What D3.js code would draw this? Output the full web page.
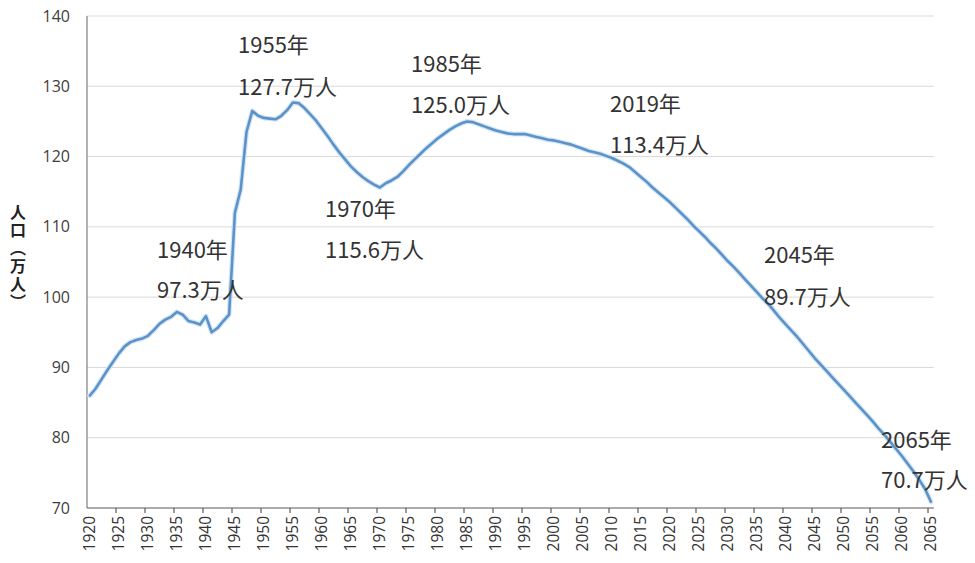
<!DOCTYPE html>
<html><head><meta charset="utf-8">
<script src="https://cdn.jsdelivr.net/npm/d3@7"></script>
<style>
html,body{margin:0;padding:0;background:#fff;}
svg{display:block;}
</style></head>
<body>
<svg id="chart" width="975" height="563"></svg>
<script>
// ---- data ----
const years = d3.range(1920, 2066);
const population = [
  86.0, 87.0, 88.3, 89.6, 90.8, 92.0, 93.0, 93.6, 93.9, 94.1,
  94.5, 95.3, 96.2, 96.8, 97.2, 97.9, 97.5, 96.6, 96.4, 96.1,
  97.3, 95.0, 95.6, 96.6, 97.5, 112.0, 115.3, 123.5, 126.5, 125.8,
  125.5, 125.4, 125.3, 125.8, 126.6, 127.7, 127.6, 126.9, 126.0, 125.1,
  124.0, 122.9, 121.7, 120.6, 119.6, 118.6, 117.8, 117.1, 116.5, 116.0,
  115.6, 116.2, 116.6, 117.1, 117.9, 118.8, 119.6, 120.4, 121.2, 121.9,
  122.6, 123.2, 123.8, 124.3, 124.7, 125.0, 124.9, 124.6, 124.3, 124.0,
  123.7, 123.5, 123.3, 123.2, 123.2, 123.2, 123.0, 122.8, 122.6, 122.4,
  122.3, 122.1, 121.9, 121.7, 121.4, 121.1, 120.8, 120.6, 120.4, 120.1,
  119.8, 119.4, 119.0, 118.5, 117.8, 117.1, 116.4, 115.6, 114.9, 114.2,
  113.5, 112.7, 111.9, 111.1, 110.2, 109.4, 108.6, 107.7, 106.9, 106.0,
  105.1, 104.3, 103.4, 102.5, 101.6, 100.7, 99.8, 99.0, 98.0, 97.0,
  96.1, 95.2, 94.3, 93.3, 92.3, 91.3, 90.4, 89.5, 88.6, 87.7,
  86.8, 85.9, 85.0, 84.1, 83.2, 82.3, 81.3, 80.4, 79.4, 78.4,
  77.4, 76.3, 75.2, 74.0, 72.7, 70.9
];
const yTicks = [70, 80, 90, 100, 110, 120, 130, 140];
const xTickYears = years.filter(y => y % 5 === 0);
const annotYears = [1940, 1955, 1970, 1985, 2019, 2045, 2065];
const annotValues = ["97.3", "127.7", "115.6", "125.0", "113.4", "89.7", "70.7"];
const yAxisTitle = "人口（万人）";

// ---- layout ----
const annotLayout = [
  {x:157, y1:258, y2:298},
  {x:238, y1:53,  y2:95},
  {x:325, y1:217, y2:258},
  {x:411, y1:72,  y2:113},
  {x:610, y1:112, y2:153},
  {x:764, y1:263, y2:305},
  {x:881, y1:448, y2:488}
];

const svg = d3.select("#chart");
const mLeft = 87, mRight = 933.8, mTop = 16, mBottom = 508;

const x = d3.scaleBand().domain(years).range([mLeft, mRight]).padding(0);
const y = d3.scaleLinear().domain([70, 140]).range([mBottom, mTop]);
const bw = x.bandwidth();

// gridlines
svg.append("g").selectAll("line").data(yTicks.filter(d => d !== 70)).join("line")
  .attr("x1", mLeft).attr("x2", mRight)
  .attr("y1", d => y(d)).attr("y2", d => y(d))
  .attr("stroke", "#d9d9d9").attr("stroke-width", 1);

// y axis labels
svg.append("g").selectAll("text").data(yTicks).join("text")
  .attr("x", 70).attr("y", d => y(d)).attr("dy", "0.35em")
  .attr("text-anchor", "end")
  .attr("font-family", "'Open Sans', 'Liberation Sans', sans-serif")
  .attr("font-size", 16).attr("fill", "#404040")
  .text(d => d);

// axes lines
svg.append("line").attr("x1", mLeft).attr("x2", mLeft).attr("y1", mTop).attr("y2", mBottom)
  .attr("stroke", "#7f7f7f").attr("stroke-width", 1.2);
svg.append("line").attr("x1", mLeft).attr("x2", mRight).attr("y1", mBottom).attr("y2", mBottom)
  .attr("stroke", "#595959").attr("stroke-width", 1.2);

// x ticks
svg.append("g").selectAll("line").data(xTickYears.slice(1)).join("line")
  .attr("x1", d => x(d)).attr("x2", d => x(d))
  .attr("y1", mBottom).attr("y2", mBottom + 5)
  .attr("stroke", "#595959").attr("stroke-width", 1.2);

// x labels
svg.append("g").selectAll("text").data(xTickYears).join("text")
  .attr("transform", d => `translate(${x(d) + bw / 2},516) rotate(-90)`)
  .attr("dy", "0.36em").attr("text-anchor", "end")
  .attr("font-family", "'Open Sans', 'Liberation Sans', sans-serif")
  .attr("font-size", 15.5).attr("fill", "#333")
  .text(d => d);

// line
const line = d3.line().x((d, i) => x(years[i]) + bw / 2).y(d => y(d));
svg.append("path").datum(population)
  .attr("d", line).attr("fill", "none")
  .attr("stroke", "#d6e6f5").attr("stroke-width", 5)
  .attr("stroke-linejoin", "round").attr("stroke-linecap", "round");
svg.append("path").datum(population)
  .attr("d", line).attr("fill", "none")
  .attr("stroke", "#5b93c8").attr("stroke-width", 2.6)
  .attr("stroke-linejoin", "round").attr("stroke-linecap", "round");

// annotations
const ag = svg.append("g")
  .attr("font-family", "'Noto Sans CJK SC', 'Noto Sans', sans-serif")
  .attr("font-size", 22).attr("fill", "#333");
annotYears.forEach((yr, i) => {
  const L = annotLayout[i];
  ag.append("text").attr("x", L.x).attr("y", L.y1).text(yr + "年");
  ag.append("text").attr("x", L.x).attr("y", L.y2).text(annotValues[i] + "万人");
});

// y axis title (vertical)
svg.append("text")
  .attr("x", 18).attr("y", 258)
  .attr("text-anchor", "middle")
  .style("writing-mode", "vertical-rl")
  .attr("font-family", "'Noto Sans CJK SC', sans-serif")
  .attr("font-size", 16).attr("font-weight", "bold")
  .attr("letter-spacing", 2)
  .attr("fill", "#222")
  .text(yAxisTitle);
</script>
</body></html>
